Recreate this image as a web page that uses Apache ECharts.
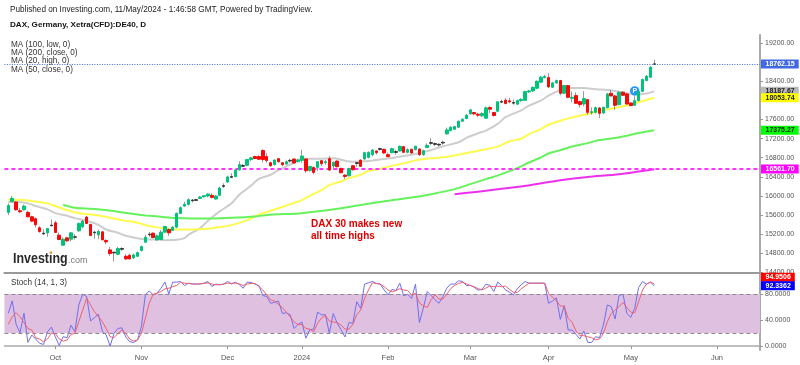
<!DOCTYPE html>
<html><head><meta charset="utf-8">
<style>html,body{margin:0;padding:0;background:#fff}#c{width:800px;height:365px}</style>
<script src="https://cdn.jsdelivr.net/npm/echarts@6/dist/echarts.min.js"></script></head>
<body><div id="c"></div>
<script>
const categories=['09-13','09-14','09-15','09-18','09-19','09-20','09-21','09-22','09-25','09-26','09-27','09-28','09-29',
'10-02','10-03','10-04','10-05','10-06','10-09','10-10','10-11','10-12','10-13','10-16','10-17','10-18','10-19','10-20','10-23','10-24','10-25','10-26','10-27','10-30','10-31',
'11-01','11-02','11-03','11-06','11-07','11-08','11-09','11-10','11-13','11-14','11-15','11-16','11-17','11-20','11-21','11-22','11-23','11-24','11-27','11-28','11-29','11-30',
'12-01','12-04','12-05','12-06','12-07','12-08','12-11','12-12','12-13','12-14','12-15','12-18','12-19','12-20','12-21','12-22','12-27','12-28','12-29',
'01-02','01-03','01-04','01-05','01-08','01-09','01-10','01-11','01-12','01-15','01-16','01-17','01-18','01-19','01-22','01-23','01-24','01-25','01-26','01-29','01-30','01-31',
'02-01','02-02','02-05','02-06','02-07','02-08','02-09','02-12','02-13','02-14','02-15','02-16','02-19','02-20','02-21','02-22','02-23','02-26','02-27','02-28','02-29',
'03-01','03-04','03-05','03-06','03-07','03-08','03-11','03-12','03-13','03-14','03-15','03-18','03-19','03-20','03-21','03-22','03-25','03-26','03-27','03-28',
'04-02','04-03','04-04','04-05','04-08','04-09','04-10','04-11','04-12','04-15','04-16','04-17','04-18','04-19','04-22','04-23','04-24','04-25','04-26','04-29','04-30',
'05-02','05-03','05-06','05-07','05-08','05-09','05-10','05-13','05-14','05-15','05-16','05-17','05-20','05-21','05-22','05-23','05-24','05-27','05-28','05-29','05-30','05-31',
'06-03','06-04','06-05','06-06','06-07','06-10','06-11','06-12','06-13','06-14','06-17','06-18'];
const monthTicks={'10-02':'Oct','11-01':'Nov','12-01':'Dec','01-02':'2024','02-01':'Feb','03-01':'Mar','04-02':'Apr','05-02':'May','06-03':'Jun'};
const priceTicks=[14400,14800,15200,15600,16000,16400,16800,17200,17600,18400,19200];
const stochTicks=[0,40,80];

const opens=[15655,15879,15872,15690,15711,15655,15564,15522,15333,15221,15228,15375,15438,15179,14969,15123,15095,15144,15270,15354,15557,15403,15228,15186,15249,15067,14871,14808,14780,14885,14738,14759,14703,14738,14857,15032,15186,15221,15081,15088,15242,15298,15277,15347,15634,15788,15823,15900,15907,15949,15984,15998,16012,15935,16012,16201,16292,16390,16404,16544,16621,16642,16761,16824,16824,16950,16824,
16695,16653,16779,16695,16667,16730,16772,16716,16744,16772,16534,16597,16597,16737,16695,16779,16625,16730,16576,16436,16422,16632,16681,16751,16772,16807,16863,16940,16975,16975,16863,16905,16912,16940,17031,16912,16975,16968,16982,16863,17010,17101,17094,17066,17108,17297,17367,17395,17437,17563,17619,17717,17745,17710,17675,17626,17850,17745,17773,17962,18004,17990,17941,17920,
17994,18001,18176,18197,18253,18379,18477,18477,18274,18365,18414,18148,18309,18043,18099,17973,17924,18015,17742,17749,17840,17735,17847,18148,18092,17910,18169,18134,17945,17896,17994,18190,18414,18484,18757];
const closes=[15802,15949,15711,15669,15788,15564,15473,15396,15256,15207,15319,15389,15235,15088,15095,15060,15228,15137,15424,15473,15424,15172,15242,15256,15081,15039,14794,14822,14899,14899,14682,14682,14766,14815,14941,15137,15200,15130,15165,15242,15361,15228,15347,15634,15753,15823,15921,15914,15921,15977,16005,16040,15970,15998,16166,16215,16397,16404,16544,16656,16635,16761,16796,16782,16768,16761,16740,
16632,16751,16716,16653,16716,16744,16688,16751,16835,16527,16618,16492,16716,16674,16716,16541,16702,16611,16485,16408,16569,16548,16695,16618,16905,16912,16961,16905,16989,16898,16821,16989,16926,17038,16912,16968,16898,17038,16863,16947,17059,17115,17080,17080,17122,17381,17437,17451,17563,17605,17689,17801,17717,17689,17724,17843,17815,17682,17969,17976,17934,17969,17955,17997,
18022,18183,18197,18274,18400,18484,18498,18281,18365,18414,18148,18309,18064,18064,17938,17910,18036,17749,17763,17847,17728,17854,18134,18092,17896,18169,18106,17924,17889,17994,18183,18435,18505,18694,18762];
const highs=[15844,15998,15886,15746,15816,15690,15585,15550,15368,15305,15326,15508,15480,15235,15130,15144,15242,15200,15445,15494,15585,15417,15270,15291,15263,15095,14934,14822,14934,14927,14780,14787,14794,14836,14962,15186,15249,15235,15193,15284,15375,15319,15368,15655,15781,15879,15949,15935,15942,15998,16019,16054,16054,16019,16194,16264,16425,16474,16565,16726,16670,16775,16817,16845,16852,16978,16894,
16716,16765,16793,16709,16744,16779,16786,16772,16961,16786,16632,16611,16730,16751,16751,16835,16723,16744,16590,16450,16590,16646,16709,16758,16926,16933,16982,16954,17010,16989,16905,17010,16961,17052,17045,16996,16989,17052,16996,16968,17101,17213,17115,17101,17157,17430,17458,17465,17577,17619,17717,17822,17759,17738,17752,17871,17878,17759,17983,18018,18046,18053,18018,18011,
18043,18197,18218,18288,18414,18512,18533,18568,18386,18435,18428,18323,18323,18183,18169,17994,18190,18029,17854,17868,17854,17868,18155,18218,18113,18190,18190,18148,17959,18204,18204,18456,18526,18715,18848];
const lows=[15599,15872,15690,15641,15690,15550,15452,15340,15228,15186,15144,15368,15228,15074,14955,15039,15046,15088,15249,15326,15410,15158,15102,15095,15074,14990,14745,14626,14759,14850,14661,14668,14682,14724,14836,15018,15144,15116,15060,15074,15228,15165,15263,15326,15620,15774,15802,15865,15893,15935,15963,15970,15949,15921,15991,16166,16271,16376,16390,16530,16614,16621,16726,16775,16754,16705,16691,
16611,16639,16695,16618,16653,16695,16674,16702,16695,16485,16506,16450,16527,16625,16653,16527,16548,16597,16471,16352,16408,16527,16611,16611,16758,16786,16828,16863,16947,16884,16814,16891,16863,16926,16898,16891,16884,16954,16835,16842,17003,17066,17045,17031,17073,17283,17353,17381,17423,17549,17605,17703,17689,17647,17654,17612,17731,17661,17752,17948,17913,17941,17906,17906,
17966,17987,18155,18169,18232,18365,18456,18260,18260,18344,18106,18134,18043,17959,17924,17854,17875,17700,17700,17728,17630,17714,17833,18078,17798,17896,18092,17910,17882,17882,17980,18169,18400,18470,18750];

const ma20Bars=[0,2,5,7,10,12,15,17,20,23,25,28,30,33,35,38,40,43,45,46,49,51,54,57,59,62,64,67,69,72,74,76,80,83,86,88,91,94,98,101,104,108,111,115,117,120,122,125,127,131,133,136,138,141,143,147,150,153,155,158,160,163,165];
const ma20Values=[15872,15872,15844,15788,15718,15641,15585,15536,15480,15396,15298,15228,15165,15116,15095,15088,15074,15081,15116,15186,15326,15480,15676,15844,16026,16215,16355,16443,16541,16653,16758,16779,16779,16786,16737,16716,16723,16751,16793,16835,16877,16961,17038,17122,17213,17311,17367,17507,17647,17790,17889,17994,18099,18218,18260,18260,18232,18218,18197,18148,18120,18141,18188];
const ma50Bars=[0,3,6,10,12,15,17,20,23,26,29,33,36,40,43,47,51,54,57,61,64,67,75,77,80,82,85,87,90,92,95,97,101,104,108,111,115,118,121,125,128,131,133,136,138,141,144,148,151,155,158,161,165];
const ma50Values=[15914,15921,15893,15844,15788,15704,15655,15620,15592,15543,15494,15438,15368,15319,15298,15298,15312,15347,15389,15494,15606,15690,15911,16002,16121,16226,16303,16373,16443,16527,16562,16611,16681,16744,16786,16807,16863,16912,16961,17031,17143,17195,17294,17399,17490,17574,17644,17714,17784,17840,17896,17959,18054];
const ma100Bars=[14,17,21,24,28,32,35,39,43,47,52,57,63,67,75,85,90,98,103,108,114,118,122,126,130,133,136,138,141,144,148,151,155,158,161,165];
const ma100Values=[15816,15753,15732,15711,15669,15620,15592,15564,15536,15529,15529,15543,15571,15606,15640,15740,15810,15911,15967,16037,16142,16247,16352,16457,16583,16699,16804,16888,16958,17035,17105,17168,17210,17259,17315,17375];
const ma200Bars=[114,118,122,126,131,141,148,156,165];
const ma200Values=[16037,16072,16107,16149,16198,16328,16398,16454,16560];

const stochK=[50.3,69.2,33.3,20.5,50.3,5.6,16.9,10.8,4.1,2.6,22,29,14.4,1,14.4,12.8,32,22,63,79.5,76,38.5,43.6,48.7,23,17,0,19.5,27,28,14,6.7,5.6,9.2,30,78.5,84.6,78.5,81,88.7,98,80,98,98,99,92.8,96.4,95.4,95,95,96.4,99,91.3,95,93.9,95,99,95,98,94,88.7,98,97.5,95,92.8,77.5,76,65.7,
67,69,50,51,48,27,33,37,12,25,26,52,48,48,19.5,50,35,25,14,36,35,68,58,95,97,99,96,95,86,78.5,87,85,96.4,77,79.5,73,95,36,58,83.6,77.5,71,65.7,76,88.7,95,95,100,99,93,93,90,85.7,87,95,93,83.6,98,93,86,82.6,78.5,87.7,94,99,96.4,
96.4,96.4,96.4,96.4,65.7,69,74,41,62,24.6,24.6,18,10.8,23,5.6,5.6,14.4,12.8,32,63,60.5,41.5,77.5,79.5,50,44,58,89.8,99,95,98,92.34];
const stochD=[33.3,45,51,45,36,27,24.6,12.8,10.8,6.7,10.8,19.5,19.5,10.8,7.7,9.2,18,19.5,37.4,55.4,73.3,63,52.8,45,37.4,27,14.4,12.8,19.5,24.6,19.5,10.8,7.7,9.2,19.5,42.6,65.6,79.5,81,83.6,87.7,88.7,91.3,92.8,98,96.4,96,95,95,95.4,96,97,95,94,94,95,96.4,96.4,96.4,95.4,92.8,95,96,96,91.3,86,78.5,70.8,
69,64,59,52,45,37,33,33,27,26,22,35,43,47,38.5,37,36,32,26,26,33,48,55,73,86,97,96,95,91,86,83,85,88,86,85,78.5,81,66,62,59,71,78.5,72,72,79.5,88,93,96,97.5,95.4,93,91,88,86,89,92,91,92,91,92,87,82.6,82,88,92,96.4,
96.4,96.4,96.4,96.4,81,75,69,62,60.5,42.6,36.4,23,16,16,14.4,12.8,9.7,10.8,19.5,37.4,50,55.4,60.5,67,59,52,51,68,86,95,98,94.95];

const priceLastLevel=18762.15, supportLevel=16561.7, stochHigh=80, stochLow=20;
const legendLines=['MA (100, low, 0)','MA (200, close, 0)','MA (20, high, 0)','MA (50, close, 0)'];
const priceTags=[[18762.15,'18762.15','#4169e1','#fff',0],[18187.67,'18187.67','#b9b9b9','#222',0],[18053.74,'18053.74','#ffff00','#222',0],[17375.27,'17375.27','#00ff00','#222',0],[16561.70,'16561.70','#ff00ff','#fff',0]];
const stochTags=[[94.9506,'94.9506','#ff0000','#fff',-7],[92.3362,'92.3362','#0000ff','#fff',0]];

const FONT='"Liberation Sans",Arial,sans-serif';
const GREEN='#00c37a',RED='#f50a0a';
const first=categories[0], last=categories[categories.length-1];
const pad=a=>['-'].concat(a);
const pairs=(b,v)=>b.map((x,i)=>[x+1,v[i]]);
const blank=['-','-','-','-'];
const wicks=[blank].concat(opens.map((o,i)=>[o,closes[i],lows[i],highs[i]]));
const bodies=[{value:blank}].concat(opens.map((o,i)=>{
  const c=closes[i],lo=Math.min(o,c),hi=Math.max(o,c);
  const col=Math.abs(o-c)<=15?'#333':(c>=o?GREEN:RED);
  return {value:[o,c,lo,hi],itemStyle:{color:col,color0:col,borderColor:col,borderColor0:col,borderColorDoji:col}};
}));
const maLine=(name,b,v,color)=>({name,type:'line',xAxisIndex:0,yAxisIndex:0,data:pairs(b,v),showSymbol:false,smooth:0.25,lineStyle:{color,width:2},itemStyle:{color},z:3,silent:true});
const showTick=(i,v)=>monthTicks[v]!==undefined;
const chart=echarts.init(document.getElementById('c'),null,{renderer:'canvas'});
const txt=(x,y,text,font,fill,extra)=>Object.assign({type:'text',x,y,silent:true,z:50,style:{text,font,fill,verticalAlign:'middle',align:'left'}},extra||{});
chart.setOption({
 animation:false,
 backgroundColor:'#fff',
 grid:[{left:4.4,width:755.6,top:35,height:237.4},{left:4.4,width:755.6,top:273,height:77}],
 xAxis:[
  {type:'category',gridIndex:0,data:categories,boundaryGap:false,axisLabel:{show:false},axisTick:{show:false},axisLine:{lineStyle:{color:'#999',width:2}},splitLine:{show:false}},
  {type:'category',gridIndex:1,data:categories,boundaryGap:false,
   axisLabel:{interval:showTick,formatter:v=>monthTicks[v]||'',color:'#555',fontFamily:FONT,fontSize:7.5,margin:4},
   axisTick:{interval:showTick,length:3,lineStyle:{color:'#999'}},axisLine:{lineStyle:{color:'#aaa',width:1.5}},splitLine:{show:false}}
 ],
 yAxis:[
  {type:'value',gridIndex:0,position:'right',min:14400,max:19367,scale:true,splitLine:{show:false},
   axisLine:{show:true,lineStyle:{color:'#aaa',width:2}},
   axisTick:{show:true,length:3,customValues:priceTicks,lineStyle:{color:'#999'}},
   axisLabel:{customValues:priceTicks,formatter:v=>v.toFixed(2),color:'#555',fontFamily:FONT,fontSize:7,margin:5}},
  {type:'value',gridIndex:1,position:'right',min:-6,max:112,splitLine:{show:false},
   axisLine:{show:true,lineStyle:{color:'#aaa',width:2}},
   axisTick:{show:true,length:3,customValues:stochTicks,lineStyle:{color:'#999'}},
   axisLabel:{customValues:stochTicks,formatter:v=>v.toFixed(4),color:'#555',fontFamily:FONT,fontSize:7,margin:5}}
 ],
 series:[
  {name:'Wicks',type:'candlestick',xAxisIndex:0,yAxisIndex:0,data:wicks,barWidth:1,z:4,silent:true,
   itemStyle:{color:'#555',color0:'#555',borderColor:'#555',borderColor0:'#555',borderColorDoji:'#555',borderWidth:0.6},
   markLine:{silent:true,symbol:'none',label:{show:false},animation:false,data:[
     [{xAxis:first,yAxis:supportLevel,lineStyle:{color:'#ff33ff',type:[4,3],width:2}},{xAxis:last,yAxis:supportLevel}],
     [{xAxis:first,yAxis:priceLastLevel,lineStyle:{color:'#4169e1',type:[1,1.5],width:1}},{xAxis:last,yAxis:priceLastLevel}]
   ]}},
  {name:'Bodies',type:'candlestick',xAxisIndex:0,yAxisIndex:0,data:bodies,barWidth:3,z:5,silent:true,
   itemStyle:{borderWidth:1},
   markPoint:{silent:true,symbol:'circle',symbolSize:10,itemStyle:{color:'#2196f3',borderColor:'#fff',borderWidth:0.5},
     label:{show:true,formatter:'P',color:'#fff',fontSize:7,fontWeight:'bold',fontFamily:FONT},
     data:[{coord:['05-03',18196]}]}},
  maLine('MA 20',ma20Bars,ma20Values,'#cdcdcd'),
  maLine('MA 50',ma50Bars,ma50Values,'#fdfb4e'),
  maLine('MA 100',ma100Bars,ma100Values,'#66f25c'),
  maLine('MA 200',ma200Bars,ma200Values,'#ee30ee'),
  {name:'%K',type:'line',xAxisIndex:1,yAxisIndex:1,data:pad(stochK),showSymbol:false,z:4,lineStyle:{color:'#6f6ff0',width:1},itemStyle:{color:'#6f6ff0'},silent:true,
   markArea:{silent:true,itemStyle:{color:'#dfc0e0'},data:[[{xAxis:first,yAxis:stochHigh},{xAxis:last,yAxis:stochLow}]]},
   markLine:{silent:true,symbol:'none',label:{show:false},lineStyle:{color:'#8a8a8a',type:[4,3],width:1},data:[
     [{xAxis:first,yAxis:stochHigh},{xAxis:last,yAxis:stochHigh}],
     [{xAxis:first,yAxis:stochLow},{xAxis:last,yAxis:stochLow}]]}},
  {name:'%D',type:'line',xAxisIndex:1,yAxisIndex:1,data:pad(stochD),showSymbol:false,z:5,lineStyle:{color:'#f0606e',width:1},itemStyle:{color:'#f0606e'},silent:true}
 ]
});
const tagEl=(t,axis)=>{
  const py=chart.convertToPixel({yAxisIndex:axis},t[0])+t[4];
  return {type:'text',x:761,y:py,z:60,silent:true,style:{text:t[1],font:'bold 7px '+FONT,fill:t[3],backgroundColor:t[2],padding:[1,4,1,4.5],verticalAlign:'middle',align:'left'}};
};
const gfx=[
 txt(10,10,'Published on Investing.com, 11/May/2024 - 1:46:58 GMT, Powered by TradingView.','8.2px '+FONT,'#222'),
 txt(10,25,'DAX, Germany, Xetra(CFD):DE40, D','bold 8.1px '+FONT,'#111'),
 txt(11,45,legendLines[0],'8.2px '+FONT,'#333'),
 txt(11,53,legendLines[1],'8.2px '+FONT,'#333'),
 txt(11,61,legendLines[2],'8.2px '+FONT,'#333'),
 txt(11,70,legendLines[3],'8.2px '+FONT,'#333'),
 txt(11,283,'Stoch (14, 1, 3)','8.2px '+FONT,'#333'),
 txt(311,224,'DAX 30 makes new','bold 10px '+FONT,'#e00000'),
 txt(311,236,'all time highs','bold 10px '+FONT,'#e00000'),
 txt(13,259,'Investing','bold 15px '+FONT,'#2a2a2a',{scaleX:0.83}),
 txt(68,261,'.com','9px '+FONT,'#777'),
 {type:'circle',shape:{cx:51,cy:252.5,r:1.3},style:{fill:'#f0a030'},z:51,silent:true}
];
priceTags.forEach(t=>gfx.push(tagEl(t,0)));
stochTags.forEach(t=>gfx.push(tagEl(t,1)));
chart.setOption({graphic:gfx});
</script></body></html>
